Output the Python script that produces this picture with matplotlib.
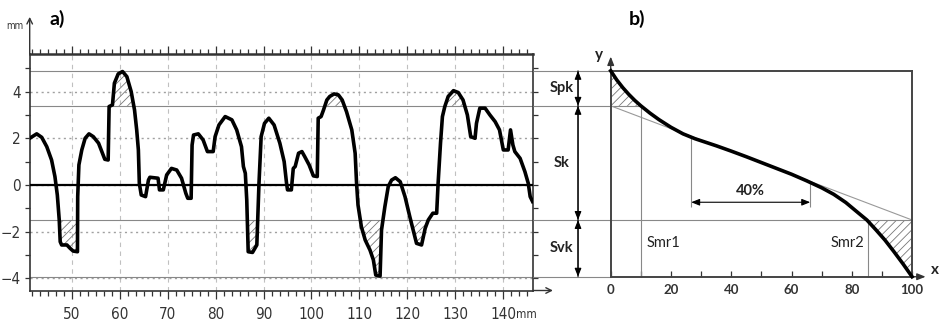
import numpy as np
import matplotlib
matplotlib.use("Agg")
import matplotlib.pyplot as plt
import matplotlib.font_manager as fm
from matplotlib.ticker import FixedLocator, MultipleLocator

# ---- data ----
# a) surface profile (mm along, mm height)
prof_x = [41.24, 42.7, 43.75, 44.8, 45.8, 46.5, 47.0, 47.4, 47.6, 47.9, 49.0, 49.65, 50.3, 51.2,
          51.25, 51.5, 52.1, 52.8, 53.6, 54.5, 55.6, 56.4, 56.9, 57.6, 57.8, 58.5, 58.9, 59.7,
          60.6, 61.5, 62.4, 63.1, 63.55, 63.9, 64.1, 64.5, 65.4, 66.0, 66.3, 68.0, 68.3, 69.1,
          69.8, 70.8, 71.9, 72.9, 73.8, 74.2, 74.9, 75.1, 75.4, 76.4, 77.4, 78.3, 79.5, 79.9,
          80.7, 82.0, 83.4, 84.4, 85.4, 85.8, 86.2, 86.5, 86.8, 87.7, 88.6, 89.05, 89.5, 90.2,
          91.1, 92.2, 93.4, 94.3, 94.8, 95.0, 95.8, 96.2, 96.6, 97.3, 98.0, 98.6, 99.5, 100.4,
          101.2, 101.4, 102.0, 102.5, 103.2, 103.8, 104.7, 105.6, 106.4, 107.3, 108.4, 109.1,
          109.4, 109.7, 110.4, 111.2, 112.2, 112.9, 113.4, 114.3, 114.6, 115.3, 116.0, 116.7,
          117.5, 118.5, 119.5, 120.5, 121.2, 121.9, 122.95, 123.7, 124.35, 125.3, 126.1, 126.4,
          126.9, 127.3, 127.8, 128.5, 129.6, 130.6, 131.6, 132.5, 133.2, 134.1, 134.4, 135.1,
          136.2, 137.2, 138.3, 139.2, 140.0, 141.0, 141.5, 142.0, 142.4, 143.5, 144.5, 145.2,
          145.6, 146.1]
prof_y = [2.0, 2.19, 2.04, 1.64, 1.07, 0.36, -0.43, -1.5, -2.43, -2.57, -2.57, -2.71, -2.83, -2.86,
          -0.5, 0.86, 1.5, 2.0, 2.19, 2.07, 1.79, 1.36, 1.1, 1.07, 3.36, 3.43, 4.36, 4.76,
          4.86, 4.64, 4.0, 3.21, 2.36, 1.5, 0.07, -0.43, -0.5, 0.21, 0.33, 0.29, -0.21, -0.21,
          0.43, 0.71, 0.64, 0.29, -0.36, -0.57, -0.57, 1.71, 2.14, 2.19, 1.93, 1.43, 1.43, 2.07,
          2.57, 2.93, 2.79, 2.36, 1.64, 0.79, 0.5, -0.64, -2.86, -2.89, -2.57, 0.07, 2.07, 2.64,
          2.86, 2.57, 1.79, 1.0, 0.07, -0.21, -0.21, 0.71, 0.79, 1.36, 1.43, 1.21, 0.86, 0.39,
          0.36, 2.86, 2.93, 3.21, 3.64, 3.79, 3.9, 3.86, 3.64, 3.14, 2.36, 1.36,
          0.07, -0.86, -1.79, -2.36, -2.79, -3.21, -3.86, -3.9, -1.93, -0.93, -0.07, 0.21,
          0.31, 0.14, -0.5, -1.36, -1.93, -2.5, -2.57, -1.86, -1.5, -1.21, -1.21, 0.07,
          1.79, 2.93, 3.36, 3.79, 4.04, 3.96, 3.64, 3.0, 2.07, 2.0, 2.64, 3.29,
          3.29, 3.0, 2.71, 2.36, 1.5, 1.5, 2.36, 1.71, 1.43, 1.14, 0.57, 0.07,
          -0.5, -0.71]

# levels (mm): top of Spk, Spk/Sk, Sk/Svk, bottom of Svk
lvl_top, lvl_spk, lvl_svk, lvl_bot = 4.89, 3.39, -1.5, -3.93
level_names = ["Spk", "Sk", "Svk"]

x_ticks = [50, 60, 70, 80, 90, 100, 110, 120, 130, 140]
y_ticks = [-4, -2, 0, 2, 4]

# b) Abbott-Firestone curve (% vs mm)
ab_x = [0, 2, 4, 6, 8, 10, 13, 16, 20, 24, 28, 35, 40, 45, 50, 55, 60, 65, 70, 74, 78,
        82, 85, 88, 91, 94, 97, 100]
ab_y = [4.89, 4.50, 4.17, 3.88, 3.62, 3.39, 3.08, 2.80, 2.47, 2.19, 1.98, 1.68, 1.45, 1.21,
        0.96, 0.71, 0.46, 0.18, -0.12, -0.40, -0.75, -1.18, -1.50, -1.92, -2.36, -2.86,
        -3.38, -3.93]
smr1, smr2 = 10, 85.3
win_lo, win_hi = 26.7, 66.2
b_ticks = [0, 20, 40, 60, 80, 100]
b_minor = [10, 30, 50, 70, 90]

# ---- fonts ----
names = {f.name for f in fm.fontManager.ttflist}
condensed = [f for f in fm.fontManager.ttflist
             if f.name == "DejaVu Sans" and f.stretch == "condensed" and f.style == "normal"
             and f.weight in (400, "normal")]
if "Liberation Sans Narrow" in names:
    narrow = dict(family="Liberation Sans Narrow")
elif condensed:
    narrow = dict(fname=condensed[0].fname)
else:
    narrow = dict(family="DejaVu Sans", stretch="condensed")
narrow_fp = fm.FontProperties(**narrow)
cal = "Lato" if "Lato" in names else "Open Sans"
plt.rcParams["hatch.linewidth"] = 0.6
plt.rcParams["hatch.color"] = "#777777"

W, H = 941, 322
fig = plt.figure(figsize=(W / 100, H / 100), dpi=100)


def fx(px):
    return px / W


def fy(py):
    return 1 - py / H


ylim = (-4.52, 5.61)
ax1 = fig.add_axes([fx(29.7), fy(290.5), fx(533.3 - 29.7), (290.5 - 54) / H])
ax2 = fig.add_axes([fx(533.3), fy(290.5), fx(W - 533.3), (290.5 - 54) / H])
for ax in (ax1, ax2):
    ax.set_ylim(*ylim)
    ax.patch.set_alpha(0)
ax1.set_xlim(41.24, 146.25)
ax2.set_xlim(-25.69, 109.6)

# ---- a) profile ----
px = np.array(prof_x)
py = np.array(prof_y)
ax1.set_axisbelow(True)
ax1.xaxis.set_major_locator(FixedLocator(x_ticks))
ax1.xaxis.set_minor_locator(MultipleLocator(10 / 6))
ax1.yaxis.set_major_locator(FixedLocator(y_ticks))
ax1.yaxis.set_minor_locator(MultipleLocator(1))
ax1.grid(axis="x", which="major", ls=(0, (4, 4)), color="#c0c0c0", lw=0.8)
ax1.grid(axis="y", which="major", ls=(0, (1.5, 2.5)), color="#a0a0a0", lw=1.0)
ax1.tick_params(axis="x", which="both", top=True, bottom=True, direction="out",
                color="#333333", width=0.9, pad=6)
ax1.tick_params(axis="x", which="major", length=6)
ax1.tick_params(axis="x", which="minor", length=3.5)
ax1.tick_params(axis="y", which="both", left=True, right=True, direction="out",
                length=3.5, color="#333333", width=0.9, pad=3)
for lab in ax1.get_xticklabels() + ax1.get_yticklabels():
    lab.set_fontproperties(narrow_fp)
    lab.set_fontsize(11)
    lab.set_color("#333333")
for s in ax1.spines.values():
    s.set_color("#333333")
    s.set_linewidth(1.2)
ax1.spines["top"].set_linewidth(1.8)

for lv in (lvl_top, lvl_spk, lvl_svk, lvl_bot):
    ax1.axhline(lv, color="#888888", lw=0.8, zorder=2)
ax1.axhline(0, color="black", lw=1.6, zorder=3)

ax1.fill_between(px, lvl_spk, py, where=py >= lvl_spk, interpolate=True,
                 facecolor="none", edgecolor="#777777", hatch="////", lw=0, zorder=2)
ax1.fill_between(px, py, lvl_svk, where=py <= lvl_svk, interpolate=True,
                 facecolor="none", edgecolor="#777777", hatch="////", lw=0, zorder=2)
ax1.plot(px, py, color="black", lw=2.6, solid_joinstyle="round", zorder=4)

ax1.annotate("", xy=(0, 1.157), xytext=(0, 1.0), xycoords="axes fraction",
             arrowprops=dict(arrowstyle="->", lw=1.0, color="#333333",
                             shrinkA=0, shrinkB=0), annotation_clip=False)
ax1.annotate("", xy=(1.039, 0), xytext=(1.0, 0), xycoords="axes fraction",
             arrowprops=dict(arrowstyle="->", lw=1.0, color="#333333",
                             shrinkA=0, shrinkB=0), annotation_clip=False)
fig.text(fx(15), fy(26), "mm", fontproperties=narrow_fp, fontsize=7, color="#333333",
         ha="center", va="center")
fig.text(fx(526), fy(315), "mm", fontproperties=narrow_fp, fontsize=8.5, color="#333333",
         ha="center", va="center")
fig.text(fx(57), fy(19), "a)", family=cal, fontsize=14, fontweight="bold",
         ha="center", va="center")
fig.text(fx(637), fy(19), "b)", family=cal, fontsize=14, fontweight="bold",
         ha="center", va="center")

# ---- middle: Spk / Sk / Svk ----
ax2.hlines([lvl_top, lvl_bot], ax2.get_xlim()[0], 0, color="#888888", lw=0.8)
ax2.hlines([lvl_spk], ax2.get_xlim()[0], smr1, color="#888888", lw=0.8)
ax2.hlines([lvl_svk], ax2.get_xlim()[0], 100, color="#888888", lw=0.8)
bounds = [lvl_top, lvl_spk, lvl_svk, lvl_bot]
for name, hi, lo in zip(level_names, bounds[:-1], bounds[1:]):
    ax2.annotate("", xy=(-10.85, lo), xytext=(-10.85, hi),
                 arrowprops=dict(arrowstyle="-|>,head_length=0.5,head_width=0.2", lw=0.8,
                                 color="black", shrinkA=0, shrinkB=0))
    ax2.annotate("", xy=(-10.85, hi), xytext=(-10.85, lo),
                 arrowprops=dict(arrowstyle="-|>,head_length=0.5,head_width=0.2", lw=0.8,
                                 color="black", shrinkA=0, shrinkB=0))
    ax2.text(-16.2, (hi + lo) / 2, name, family=cal, fontsize=10.5, fontweight="bold",
             ha="center", va="center", color="#222222")

# ---- b) Abbott curve ----
bx = np.array(ab_x, dtype=float)
by = np.array(ab_y)
for side in ("left", "right"):
    ax2.spines[side].set_position(("data", 0 if side == "left" else 100))
    ax2.spines[side].set_bounds(lvl_bot, lvl_top)
for side in ("bottom", "top"):
    ax2.spines[side].set_position(("data", lvl_bot if side == "bottom" else lvl_top))
    ax2.spines[side].set_bounds(0, 100)
for s in ax2.spines.values():
    s.set_color("#444444")
    s.set_linewidth(1.4)
ax2.xaxis.set_major_locator(FixedLocator(b_ticks))
ax2.xaxis.set_minor_locator(FixedLocator(b_minor))
ax2.tick_params(axis="x", which="both", direction="in", length=4, width=0.9,
                color="#333333", labelsize=9.5, pad=5)
ax2.tick_params(axis="y", left=False, labelleft=False)
for lab in ax2.get_xticklabels():
    lab.set_family(cal)
    lab.set_fontweight("bold")
    lab.set_color("#333333")

ax2.plot([0, 100], [lvl_spk, lvl_svk], color="#999999", lw=0.8)
ax2.vlines([smr1], lvl_bot, lvl_spk, color="#888888", lw=0.8)
ax2.vlines([smr2], lvl_bot, lvl_svk, color="#888888", lw=0.8)
ax2.fill_between(bx, lvl_spk, by, where=bx <= smr1, facecolor="none",
                 edgecolor="#777777", hatch="////", lw=0)
ax2.fill_between(bx, by, lvl_svk, where=bx >= smr2 - 0.4, interpolate=True,
                 facecolor="none", edgecolor="#777777", hatch="////", lw=0)
ax2.plot(bx, by, color="black", lw=2.6, zorder=4)

y_win = -0.74
y_lo = np.interp(win_lo, bx, by)
y_hi = np.interp(win_hi, bx, by)
ax2.vlines([win_lo], y_win - 0.2, y_lo, color="#888888", lw=0.8)
ax2.vlines([win_hi], y_win - 0.2, y_hi, color="#888888", lw=0.8)
ax2.annotate("", xy=(win_hi, y_win), xytext=(win_lo, y_win),
             arrowprops=dict(arrowstyle="<|-|>,head_length=0.5,head_width=0.2", lw=0.8,
                             color="black", shrinkA=0, shrinkB=0))
ax2.text((win_lo + win_hi) / 2, y_win + 0.18, "40%", family=cal, fontsize=10.5,
         fontweight="bold", ha="center", va="bottom", color="#222222")
ax2.text(smr1 + 1.8, -2.5, "Smr1", family=cal, fontsize=10.5, ha="left", va="center",
         color="#222222")
ax2.text(smr2 - 1.0, -2.5, "Smr2", family=cal, fontsize=10.5, ha="right", va="center",
         color="#222222")

ax2.annotate("", xy=(0, 5.5), xytext=(0, lvl_top),
             arrowprops=dict(arrowstyle="-|>,head_length=0.5,head_width=0.2", lw=1.0,
                             color="#333333", shrinkA=0, shrinkB=0))
ax2.annotate("", xy=(104.5, lvl_bot), xytext=(100, lvl_bot),
             arrowprops=dict(arrowstyle="-|>,head_length=0.5,head_width=0.2", lw=1.0,
                             color="#333333", shrinkA=0, shrinkB=0))
fig.text(fx(599), fy(55), "y", family=cal, fontsize=11, fontweight="bold", ha="center",
         va="center", color="#222222")
fig.text(fx(935), fy(270), "x", family=cal, fontsize=11, fontweight="bold", ha="center",
         va="center", color="#222222")

fig.savefig("out.png", dpi=100, facecolor="white")
